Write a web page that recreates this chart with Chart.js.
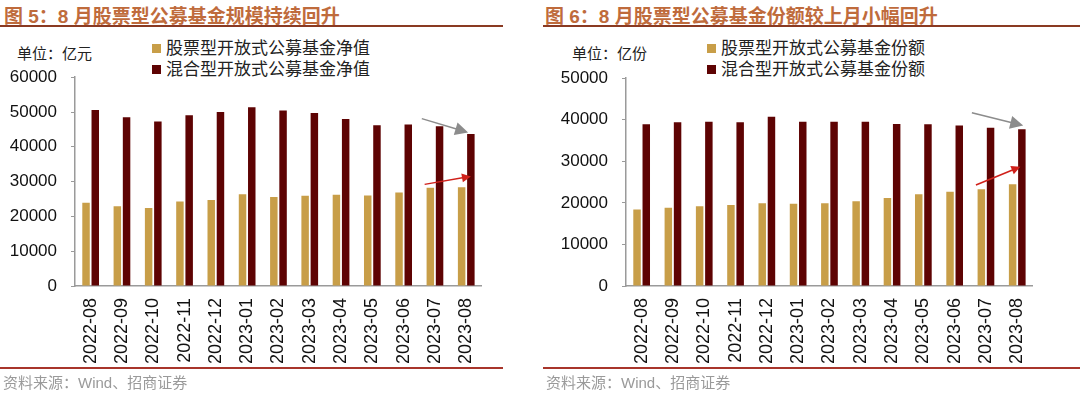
<!DOCTYPE html>
<html>
<head>
<meta charset="utf-8">
<script src="https://cdn.jsdelivr.net/npm/chart.js@4.4.0/dist/chart.umd.min.js"></script>
<style>
  body { margin: 0; width: 1080px; height: 393px; background: #fff; position: relative; overflow: hidden;
         font-family: "Liberation Sans", "Noto Sans CJK SC", sans-serif; }
  .title { position: absolute; top: 1px; font-family: "Liberation Sans", "Noto Sans CJK SC", sans-serif; font-size: 19px;
           font-weight: bold; color: #BF6B3C; white-space: nowrap; }
  .rule { position: absolute; height: 2px; background: #8A3A22; }
  .foot { position: absolute; height: 2px; background: #A8352B; }
  .unit { position: absolute; top: 42px; font-family: "Noto Sans CJK SC", sans-serif; font-size: 15px; color: #222; }
  .legend { position: absolute; top: 36px; font-family: "Noto Sans CJK SC", sans-serif; font-size: 17px; color: #222; line-height: 21px; }
  .legend span { display: inline-block; width: 9px; height: 9px; margin-right: 5px; vertical-align: 1px; }
  .src { position: absolute; top: 371px; font-family: "Liberation Sans", "Noto Sans CJK SC", sans-serif; font-size: 15px; color: #9a9a9a; }
  canvas { position: absolute; }
</style>
</head>
<body>

<div class="title" style="left:4px">图 5：8 月股票型公募基金规模持续回升</div>
<div class="rule" style="left:0; top:25px; width:503px"></div>
<div class="unit" style="left:17px">单位：亿元</div>
<div class="legend" style="left:152px" id="legend1"></div>
<canvas id="navChart" width="500" height="315" style="left:0; top:53px"></canvas>
<div class="foot" style="left:0; top:367px; width:503px"></div>
<div class="src" style="left:3px">资料来源：Wind、招商证券</div>

<div class="title" style="left:545px">图 6：8 月股票型公募基金份额较上月小幅回升</div>
<div class="rule" style="left:543px; top:25px; width:537px"></div>
<div class="unit" style="left:572px">单位：亿份</div>
<div class="legend" style="left:707px" id="legend2"></div>
<canvas id="shareChart" width="500" height="314" style="left:551px; top:54px"></canvas>
<div class="foot" style="left:543px; top:367px; width:537px"></div>
<div class="src" style="left:546px">资料来源：Wind、招商证券</div>

<script>
const months = ['2022-08', '2022-09', '2022-10', '2022-11', '2022-12', '2023-01', '2023-02',
                '2023-03', '2023-04', '2023-05', '2023-06', '2023-07', '2023-08'];

// 净值 (亿元)
const stockNav = [23900, 22900, 22400, 24300, 24700, 26400, 25600, 25900, 26200, 26000, 26900, 28200, 28400];
const mixedNav = [50600, 48500, 47300, 49100, 50000, 51400, 50400, 49700, 48000, 46200, 46400, 45900, 43700];

// 份额 (亿份)
const stockShares = [18400, 18800, 19200, 19500, 19900, 19800, 19900, 20400, 21200, 22100, 22700, 23300, 24500];
const mixedShares = [38900, 39400, 39500, 39400, 40700, 39500, 39500, 39500, 39000, 38900, 38600, 38100, 37700];

const navTicks = [0, 10000, 20000, 30000, 40000, 50000, 60000];
const shareTicks = [0, 10000, 20000, 30000, 40000, 50000];

const gold = '#C89E48';
const maroon = '#5E0303';

// trend arrows, given in category index / value units
const navArrows = [
    {from: [10.58, 48100], to: [12.06, 44100], color: '#8c8c8c', head: 13},
    {from: [10.67, 29200], to: [12.15, 31500], color: '#D0201A', head: 9}
];
const shareArrows = [
    {from: [10.55, 41700], to: [12.19, 38600], color: '#8c8c8c', head: 13},
    {from: [10.68, 24300], to: [12.10, 28700], color: '#D0201A', head: 9}
];

const arrowPlugin = {
    id: 'arrows',
    afterDatasetsDraw(chart, args, opts) {
        const c = chart.ctx;
        const xs = chart.scales.x, ys = chart.scales.y;
        (opts.list || []).forEach(a => {
            const x0 = xs.getPixelForValue(a.from[0]), y0 = ys.getPixelForValue(a.from[1]);
            const x1 = xs.getPixelForValue(a.to[0]), y1 = ys.getPixelForValue(a.to[1]);
            const ang = Math.atan2(y1 - y0, x1 - x0);
            const h = a.head;
            c.save();
            c.strokeStyle = a.color;
            c.fillStyle = a.color;
            c.lineWidth = 1.5;
            c.beginPath();
            c.moveTo(x0, y0);
            c.lineTo(x1 - Math.cos(ang) * h * 0.8, y1 - Math.sin(ang) * h * 0.8);
            c.stroke();
            c.beginPath();
            c.moveTo(x1, y1);
            c.lineTo(x1 - h * Math.cos(ang) + h * 0.5 * Math.sin(ang), y1 - h * Math.sin(ang) - h * 0.5 * Math.cos(ang));
            c.lineTo(x1 - h * Math.cos(ang) - h * 0.5 * Math.sin(ang), y1 - h * Math.sin(ang) + h * 0.5 * Math.cos(ang));
            c.closePath();
            c.fill();
            c.restore();
        });
    }
};

function makeChart(id, legendId, labels, stock, mixed, ticks, arrows) {
    const ctx = document.getElementById(id).getContext('2d');
    const chart = new Chart(ctx, {
        type: 'bar',
        data: {
            labels: months,
            datasets: [
                {label: labels[0], data: stock, backgroundColor: gold},
                {label: labels[1], data: mixed, backgroundColor: maroon}
            ]
        },
        options: {
            responsive: false,
            animation: false,
            devicePixelRatio: 1,
            categoryPercentage: 0.59,
            barPercentage: 0.81,
            layout: {padding: {top: 10, right: 4, bottom: 0, left: 0}},
            plugins: {
                legend: {display: false},
                tooltip: {enabled: false},
                arrows: {list: arrows}
            },
            scales: {
                x: {
                    grid: {display: false, drawTicks: false},
                    border: {display: true, color: '#9a9a9a', width: 1.5},
                    ticks: {
                        maxRotation: 90, minRotation: 90, padding: 12, autoSkip: false,
                        color: '#111', font: {family: 'Liberation Sans', size: 18}
                    },
                    afterFit: s => { s.height = 82; }
                },
                y: {
                    min: 0,
                    max: ticks[ticks.length - 1],
                    afterBuildTicks: s => { s.ticks = ticks.map(v => ({value: v})); },
                    grid: {drawOnChartArea: false, tickLength: 4, color: '#9a9a9a'},
                    border: {display: true, color: '#9a9a9a', width: 1.5},
                    ticks: {
                        padding: 14, color: '#111', font: {family: 'Liberation Sans', size: 17},
                        callback: v => String(v)
                    },
                    afterFit: s => { s.width = 75; }
                }
            }
        },
        plugins: [arrowPlugin]
    });

    const lg = document.getElementById(legendId);
    lg.innerHTML = chart.data.datasets.map(d =>
        '<div><span style="background:' + d.backgroundColor + '"></span>' + d.label + '</div>').join('');
    return chart;
}

const navChart = makeChart('navChart', 'legend1',
    ['股票型开放式公募基金净值', '混合型开放式公募基金净值'], stockNav, mixedNav, navTicks, navArrows);
const shareChart = makeChart('shareChart', 'legend2',
    ['股票型开放式公募基金份额', '混合型开放式公募基金份额'], stockShares, mixedShares, shareTicks, shareArrows);
</script>
</body>
</html>
